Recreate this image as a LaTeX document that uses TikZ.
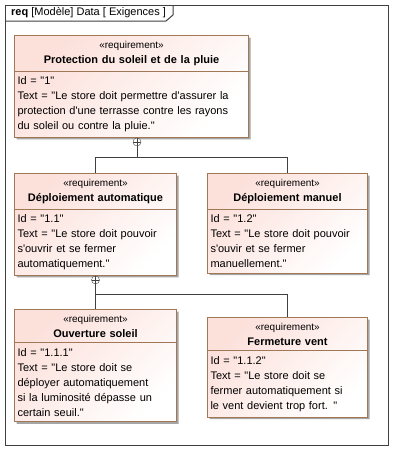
\documentclass[tikz,border=0pt]{standalone}
\usepackage{fontspec}
\setmainfont{Liberation Sans}[Ligatures=TeXOff]
\usetikzlibrary{positioning, shapes.multipart, shadows}
\definecolor{reqborder}{RGB}{160,120,88}
\definecolor{reqfill}{RGB}{252,224,218}
\definecolor{framegray}{RGB}{64,64,64}

\begin{document}
\begin{tikzpicture}[x=1pt, y=-1pt,
    req/.style={
        rectangle split, rectangle split parts=2, draw=reqborder, line width=1pt,
        top color=reqfill, bottom color=white, shading angle=45,
        drop shadow={shadow xshift=2pt, shadow yshift=-2pt, fill=black!35, opacity=1},
        anchor=north west, align=left, inner xsep=3pt, inner ysep=5pt,
        font=\fontsize{11}{15}\selectfont
    },
    contain/.style={
        circle, draw=framegray, fill=white, minimum size=8pt, inner sep=0pt,
        path picture={\draw[framegray] (path picture bounding box.north) -- (path picture bounding box.south)
            (path picture bounding box.west) -- (path picture bounding box.east);}
    },
    link/.style={draw=framegray, line width=1pt}
]
\useasboundingbox[fill=white] (0,0) rectangle (403,461);

% frame
\draw[framegray, line width=1pt] (5,5) rectangle (388,445);
\draw[framegray, line width=1pt] (5,21) -- (166,21) -- (173,15) -- (173,5);
\node[anchor=west, inner sep=0pt, font=\fontsize{11}{13}\selectfont] (title) at (11,13)
    {\textbf{req} [Modèle] Data [ Exigences ]};

\node[req, text width=228pt] (p1) at (14,35) {%
    {\centering{\fontsize{10}{14}\selectfont «requirement»}\\\textbf{Protection du soleil et de la pluie}\par}
    \nodepart{two}Id = "1"\\Text = "Le store doit permettre d'assurer la\\protection d'une terrasse contre les rayons\\du soleil ou contre la pluie."};

\node[req, text width=156pt] (d1) at (14,173) {%
    {\centering{\fontsize{10}{14}\selectfont «requirement»}\\\textbf{Déploiement automatique}\par}
    \nodepart{two}Id = "1.1"\\Text = "Le store doit pouvoir\\s'ouvrir et se fermer\\automatiquement."};

\node[req, text width=154pt] (d2) at (207,173) {%
    {\centering{\fontsize{10}{14}\selectfont «requirement»}\\\textbf{Déploiement manuel}\par}
    \nodepart{two}Id = "1.2"\\Text = "Le store doit pouvoir\\s'ouvir et se fermer\\manuellement."};

\node[req, text width=156pt] (o1) at (14,309) {%
    {\centering{\fontsize{10}{14}\selectfont «requirement»}\\\textbf{Ouverture soleil}\par}
    \nodepart{two}Id = "1.1.1"\\Text = "Le store doit se\\déployer automatiquement\\si la luminosité dépasse un\\certain seuil."};

\node[req, text width=154pt] (f1) at (207,317) {%
    {\centering{\fontsize{10}{14}\selectfont «requirement»}\\\textbf{Fermeture vent}\par}
    \nodepart{two}Id = "1.1.2"\\Text = "Le store doit se\\fermer automatiquement si\\le vent devient trop fort. "};

% containment
\node[contain, anchor=north] (c1) at ([xshift=5.5pt]p1.south) {};
\node[contain, anchor=north] (c2) at (d1.south) {};
\coordinate (j1) at (c1 |- 0,157);
\coordinate (j2) at (c2 |- 0,294);

\draw[link] (c1) -- (j1) -| (d1.north);
\draw[link] (j1) -| (d2.north);
\draw[link] (c2) -- (j2) -- (o1.north);
\draw[link] (j2) -| (f1.north);

\end{tikzpicture}
\end{document}
